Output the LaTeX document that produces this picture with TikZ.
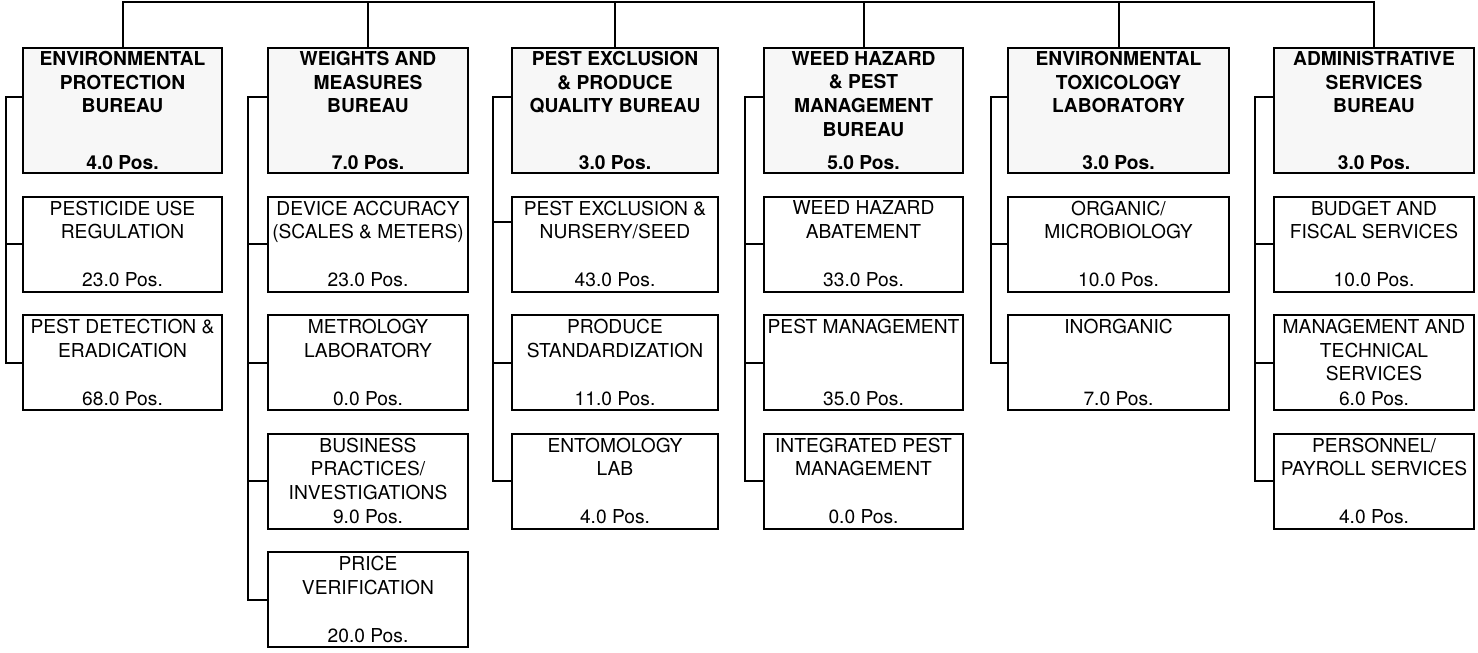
\documentclass[tikz,border=0pt]{standalone}
\usepackage{fontspec}
\setmainfont{TeX Gyre Heros}
\usetikzlibrary{positioning}
\tikzset{
  box/.style={draw, line width=1pt, anchor=north, inner sep=0pt, minimum height=47.5pt},
  bureau/.style={box, fill=black!3, minimum height=62.5pt},
  unit/.style={box, fill=white},
  unit text/.style={align=center, inner sep=2.5pt, font=\fontsize{9.6}{11.8}\selectfont},
  bureau text/.style={unit text, inner sep=2pt, font=\fontsize{9.6}{11.8}\selectfont\bfseries},
  link/.style={line width=1pt},
}
% box with its title on top and the positions at the bottom
\newcommand{\orgbox}[5]{%
  \node[#1, #3] (#2) {};
  \node[#1 text, anchor=north] (#2-t) at (#2.north) {#4};
  \node[#1 text, anchor=south] (#2-p) at (#2.south) {#5};
}

\begin{document}
\begin{tikzpicture}[x=0.5pt, y=-0.5pt, node distance=10.75pt]
  \useasboundingbox (0,0) rectangle (1478,653);

  % environmental protection
  \orgbox{bureau}{epb}{at={(22,47)}, anchor=north west, minimum width=99.5pt}{ENVIRONMENTAL\\PROTECTION\\BUREAU}{4.0 Pos.}
  \orgbox{unit}{pur}{below=of epb, minimum width=99.5pt}{PESTICIDE USE\\REGULATION}{23.0 Pos.}
  \orgbox{unit}{pde}{below=of pur, minimum width=99.5pt}{PEST DETECTION \&\\ERADICATION}{68.0 Pos.}

  % weights and measures
  \orgbox{bureau}{wmb}{at={(267,47)}, anchor=north west, minimum width=100pt}{WEIGHTS AND\\MEASURES\\BUREAU}{7.0 Pos.}
  \orgbox{unit}{dac}{below=of wmb, minimum width=100pt}{DEVICE ACCURACY\\(SCALES \& METERS)}{23.0 Pos.}
  \orgbox{unit}{mlab}{below=of dac, minimum width=100pt}{METROLOGY\\LABORATORY}{0.0 Pos.}
  \orgbox{unit}{bpi}{below=of mlab, minimum width=100pt}{BUSINESS\\PRACTICES/\\INVESTIGATIONS}{9.0 Pos.}
  \orgbox{unit}{pvr}{below=of bpi, minimum width=100pt}{PRICE\\VERIFICATION}{20.0 Pos.}

  % pest exclusion
  \orgbox{bureau}{peb}{at={(511,47)}, anchor=north west, minimum width=103pt}{PEST EXCLUSION\\\& PRODUCE\\QUALITY BUREAU}{3.0 Pos.}
  \orgbox{unit}{pen}{below=of peb, minimum width=103pt}{PEST EXCLUSION \&\\NURSERY/SEED}{43.0 Pos.}
  \orgbox{unit}{pst}{below=of pen, minimum width=103pt}{PRODUCE\\STANDARDIZATION}{11.0 Pos.}
  \orgbox{unit}{ent}{below=of pst, minimum width=103pt}{ENTOMOLOGY\\LAB}{4.0 Pos.}

  % weed hazard and pest management
  \orgbox{bureau}{whb}{at={(763,47)}, anchor=north west, minimum width=99.5pt}{WEED HAZARD\\\& PEST\\MANAGEMENT\\BUREAU}{5.0 Pos.}
  \orgbox{unit}{wha}{below=of whb, minimum width=99.5pt}{WEED HAZARD\\ABATEMENT}{33.0 Pos.}
  \orgbox{unit}{pma}{below=of wha, minimum width=99.5pt}{PEST MANAGEMENT}{35.0 Pos.}
  \orgbox{unit}{ipm}{below=of pma, minimum width=99.5pt}{INTEGRATED PEST\\MANAGEMENT}{0.0 Pos.}

  % toxicology laboratory
  \orgbox{bureau}{etl}{at={(1007,47)}, anchor=north west, minimum width=110.5pt}{ENVIRONMENTAL\\TOXICOLOGY\\LABORATORY}{3.0 Pos.}
  \orgbox{unit}{omb}{below=of etl, minimum width=110.5pt}{ORGANIC/\\MICROBIOLOGY}{10.0 Pos.}
  \orgbox{unit}{ino}{below=of omb, minimum width=110.5pt}{INORGANIC}{7.0 Pos.}

  % administrative services
  \orgbox{bureau}{asb}{at={(1273,47)}, anchor=north west, minimum width=100pt}{ADMINISTRATIVE\\SERVICES\\BUREAU}{3.0 Pos.}
  \orgbox{unit}{bfs}{below=of asb, minimum width=100pt}{BUDGET AND\\FISCAL SERVICES}{10.0 Pos.}
  \orgbox{unit}{mts}{below=of bfs, minimum width=100pt}{MANAGEMENT AND\\TECHNICAL\\SERVICES}{6.0 Pos.}
  \orgbox{unit}{pps}{below=of mts, minimum width=100pt}{PERSONNEL/\\PAYROLL SERVICES}{4.0 Pos.}

  % top line
  \coordinate (top) at (0,2);
  \draw[link] (epb.north) -- (epb.north |- top) -- (asb.north |- top) -- (asb.north);
  \foreach \b in {wmb, peb, whb, etl}
    \draw[link] (\b.north) -- (\b.north |- top);

  % brackets
  \draw[link] ([yshift=-25pt]epb.north west) -| ([xshift=-8pt]pde.west) -- (pde.west);
  \draw[link] ([xshift=-8pt]pur.west) -- (pur.west);

  \draw[link] ([yshift=-25pt]wmb.north west) -| ([xshift=-9.5pt]pvr.west) -- (pvr.west);
  \foreach \u in {dac, mlab, bpi}
    \draw[link] ([xshift=-9.5pt]\u.west) -- (\u.west);

  \draw[link] ([yshift=-25pt]peb.north west) -| ([xshift=-9pt]ent.west) -- (ent.west);
  \draw[link] ([xshift=-9pt, yshift=-13pt]pen.north west) -- ([yshift=-13pt]pen.north west);
  \draw[link] ([xshift=-9pt]pst.west) -- (pst.west);

  \draw[link] ([yshift=-25pt]whb.north west) -| ([xshift=-9pt]ipm.west) -- (ipm.west);
  \foreach \u in {wha, pma}
    \draw[link] ([xshift=-9pt]\u.west) -- (\u.west);

  \draw[link] ([yshift=-25pt]etl.north west) -| ([xshift=-8pt]ino.west) -- (ino.west);
  \draw[link] ([xshift=-8pt]omb.west) -- (omb.west);

  \draw[link] ([yshift=-25pt]asb.north west) -| ([xshift=-9pt]pps.west) -- (pps.west);
  \foreach \u in {bfs, mts}
    \draw[link] ([xshift=-9pt]\u.west) -- (\u.west);
\end{tikzpicture}
\end{document}
